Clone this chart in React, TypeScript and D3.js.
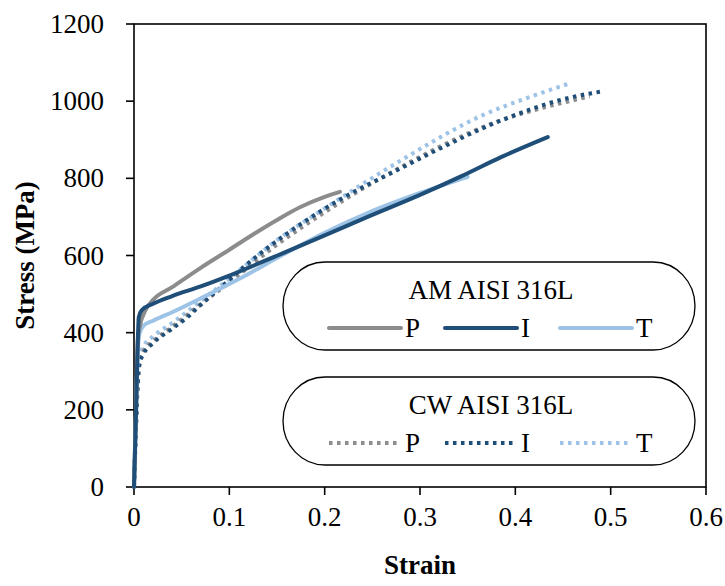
import { useEffect, useRef } from 'react';
import * as d3 from 'd3';

// strain / stress pairs
const amP: [number, number][] = [
  [0, 0], [0.002, 200], [0.004, 380], [0.006, 415], [0.012, 458], [0.02, 485], [0.04, 518],
  [0.07, 568], [0.1, 615], [0.122, 650], [0.15, 692], [0.174, 725], [0.2, 752], [0.216, 765],
];
const amI: [number, number][] = [
  [0, 0], [0.002, 180], [0.004, 380], [0.005, 440], [0.008, 458], [0.02, 475], [0.04, 495],
  [0.07, 520], [0.1, 548], [0.157, 607], [0.2, 652], [0.245, 700], [0.3, 757], [0.343, 805],
  [0.385, 855], [0.434, 907],
];
const amT: [number, number][] = [
  [0, 0], [0.002, 180], [0.004, 350], [0.006, 400], [0.01, 418], [0.02, 431], [0.04, 453],
  [0.07, 489], [0.11, 539], [0.157, 603], [0.2, 659], [0.245, 710], [0.3, 762], [0.35, 804],
];
const cwP: [number, number][] = [
  [0, 0], [0.002, 150], [0.004, 280], [0.006, 328], [0.01, 352], [0.02, 378], [0.04, 415],
  [0.07, 474], [0.1, 530], [0.15, 628], [0.2, 712], [0.279, 828], [0.38, 946], [0.44, 990],
  [0.478, 1012],
];
const cwI: [number, number][] = [
  [0, 0], [0.002, 150], [0.004, 270], [0.006, 320], [0.01, 345], [0.02, 373], [0.04, 410],
  [0.056, 440], [0.069, 470], [0.09, 515], [0.115, 570], [0.174, 680], [0.216, 745],
  [0.279, 825], [0.315, 870], [0.385, 950], [0.455, 1008], [0.493, 1026],
];
const cwT: [number, number][] = [
  [0, 0], [0.002, 150], [0.004, 280], [0.006, 335], [0.01, 365], [0.02, 390], [0.04, 425],
  [0.07, 482], [0.1, 540], [0.15, 640], [0.2, 722], [0.279, 845], [0.367, 965], [0.42, 1015],
  [0.458, 1047],
];

const xTicks = [0, 0.1, 0.2, 0.3, 0.4, 0.5, 0.6];
const yTicks = [0, 200, 400, 600, 800, 1000, 1200];
const legendLabels = ['P', 'I', 'T'];
const groupTitles = ['AM AISI 316L', 'CW AISI 316L'];

const COLORS = { P: '#8c8c8c', I: '#1f4e79', T: '#9dc3e6' };
const FONT = '"Liberation Serif", "Times New Roman", serif';

export default function App() {
  const svgRef = useRef<SVGSVGElement | null>(null);

  useEffect(() => {
    if (!svgRef.current) return;
    const svg = d3.select(svgRef.current);
    svg.selectAll('*').remove();

    const left = 134, right = 706, top = 24, bottom = 487;
    const x = d3.scaleLinear().domain([0, 0.6]).range([left, right]);
    const y = d3.scaleLinear().domain([0, 1200]).range([bottom, top]);

    // frame
    svg.append('rect')
      .attr('x', left).attr('y', top)
      .attr('width', right - left).attr('height', bottom - top)
      .attr('fill', 'none').attr('stroke', '#000').attr('stroke-width', 1.6);

    // ticks
    svg.selectAll('line.xt').data(xTicks).join('line')
      .attr('x1', (d) => x(d)).attr('x2', (d) => x(d))
      .attr('y1', bottom).attr('y2', bottom + 8)
      .attr('stroke', '#000').attr('stroke-width', 1.6);
    svg.selectAll('line.yt').data(yTicks).join('line')
      .attr('x1', left - 8).attr('x2', left)
      .attr('y1', (d) => y(d)).attr('y2', (d) => y(d))
      .attr('stroke', '#000').attr('stroke-width', 1.6);

    svg.selectAll('text.xl').data(xTicks).join('text')
      .attr('x', (d) => x(d)).attr('y', bottom + 39)
      .attr('text-anchor', 'middle')
      .attr('font-family', FONT).attr('font-size', 27)
      .text((d) => String(d));
    svg.selectAll('text.yl').data(yTicks).join('text')
      .attr('x', 104).attr('y', (d) => y(d) + 9)
      .attr('text-anchor', 'end')
      .attr('font-family', FONT).attr('font-size', 27)
      .text((d) => String(d));

    // axis titles
    svg.append('text')
      .attr('x', (left + right) / 2).attr('y', 574)
      .attr('text-anchor', 'middle')
      .attr('font-family', FONT).attr('font-size', 27).attr('font-weight', 'bold')
      .text('Strain');
    svg.append('text')
      .attr('transform', `translate(34,${(top + bottom) / 2}) rotate(-90)`)
      .attr('text-anchor', 'middle')
      .attr('font-family', FONT).attr('font-size', 27).attr('font-weight', 'bold')
      .text('Stress (MPa)');

    const line = d3.line<[number, number]>()
      .x((d) => x(d[0])).y((d) => y(d[1]))
      .curve(d3.curveMonotoneX);

    const dotted = [
      { data: cwT, color: COLORS.T },
      { data: cwP, color: COLORS.P },
      { data: cwI, color: COLORS.I },
    ];
    const solid = [
      { data: amT, color: COLORS.T },
      { data: amP, color: COLORS.P },
      { data: amI, color: COLORS.I },
    ];

    const plot = svg.append('g');
    dotted.forEach((s) => {
      plot.append('path').attr('d', line(s.data))
        .attr('fill', 'none').attr('stroke', s.color).attr('stroke-width', 4)
        .attr('stroke-dasharray', '3.5 4.5');
    });
    solid.forEach((s) => {
      plot.append('path').attr('d', line(s.data))
        .attr('fill', 'none').attr('stroke', s.color).attr('stroke-width', 4)
        .attr('stroke-linecap', 'round');
    });

    // legend: two pill-shaped boxes
    const legX = 283, legW = 412, legH = 88;
    const legYs = [262, 377];
    const sampleX = [329, 445, 560];
    const labelColors = [COLORS.P, COLORS.I, COLORS.T];
    groupTitles.forEach((title, gi) => {
      const g = svg.append('g').attr('transform', `translate(${legX},${legYs[gi]})`);
      g.append('rect').attr('width', legW).attr('height', legH)
        .attr('rx', 42).attr('ry', 44)
        .attr('fill', '#fff').attr('stroke', '#000').attr('stroke-width', 1.3);
      g.append('text')
        .attr('x', legW / 2 + 2).attr('y', 37)
        .attr('text-anchor', 'middle')
        .attr('font-family', FONT).attr('font-size', 27)
        .text(title);
      legendLabels.forEach((lab, i) => {
        const x0 = sampleX[i] - legX;
        g.append('line')
          .attr('x1', x0).attr('x2', x0 + 72)
          .attr('y1', 66).attr('y2', 66)
          .attr('stroke', labelColors[i]).attr('stroke-width', 4)
          .attr('stroke-dasharray', gi === 1 ? '3.5 4.5' : null)
          .attr('stroke-linecap', gi === 0 ? 'round' : 'butt');
        g.append('text')
          .attr('x', x0 + 76).attr('y', 75)
          .attr('font-family', FONT).attr('font-size', 27)
          .text(lab);
      });
    });
  }, []);

  return (
    <svg
      ref={svgRef}
      width={725}
      height={586}
      style={{ position: 'absolute', left: 0, top: 0, background: '#fff' }}
    />
  );
}
